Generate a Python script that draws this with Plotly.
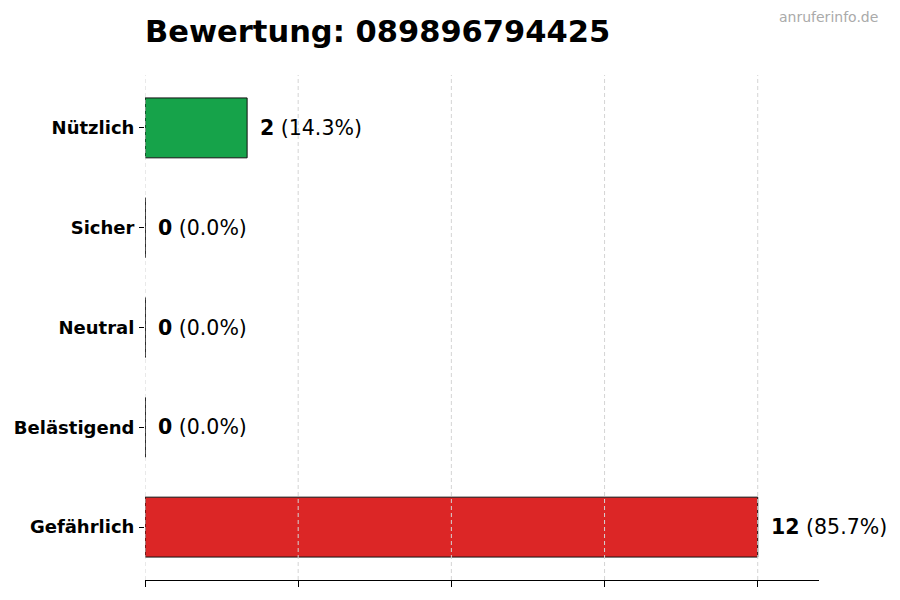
import plotly.graph_objects as go

categories = ["Gefährlich", "Belästigend", "Neutral", "Sicher", "Nützlich"]
counts = [12, 0, 0, 0, 2]
colors = ["#dc2626", "#dc2626", "#9ca3af", "#3b82f6", "#16a34a"]
x_ticks = [0, 3, 6, 9, 12]
title_text = "Bewertung: 089896794425"
watermark = "anruferinfo.de"

total = sum(counts)
font_family = "DejaVu Sans"
# page body has an 8px margin, so the figure is 16px smaller than the window
W, H = 884, 584

fig = go.Figure(go.Bar(
    x=counts, y=categories, orientation="h", width=0.6,
    marker=dict(color=colors, line=dict(color="#111111", width=1)),
    hoverinfo="skip",
))

# dashed grid drawn on top of the bars (as in the original)
for t in x_ticks:
    fig.add_shape(type="line", xref="x", yref="paper", x0=t, x1=t, y0=0, y1=1,
                  layer="above", line=dict(color="#d4d4d4", width=1, dash="4px,3px"))

# label for each bar + edge line for empty bars
for i, (cat, n) in enumerate(zip(categories, counts)):
    pct = 100.0 * n / total if total else 0.0
    fig.add_annotation(
        x=n, y=cat, xref="x", yref="y", xanchor="left", yanchor="middle",
        xshift=11, showarrow=False,
        text=f"<b>{n}</b> ({pct:.1f}%)",
        font=dict(family=font_family, size=20.5, color="#000000"),
    )
    if n == 0:
        fig.add_shape(type="line", xref="x", yref="y",
                      x0=0, x1=0, y0=i - 0.3, y1=i + 0.3,
                      line=dict(color="#111111", width=1))

fig.add_annotation(
    x=1.0, y=1.0, xref="paper", yref="paper", xanchor="right", yanchor="middle",
    yshift=58, xshift=61, showarrow=False, text=watermark,
    font=dict(family=font_family, size=14, color="#aaaaaa"),
)

fig.update_layout(
    width=W, height=H,
    paper_bgcolor="white", plot_bgcolor="white",
    title=dict(text=f"<b>{title_text}</b>", x=137 / W, xanchor="left",
               y=1 - 23 / H, yanchor="middle",
               font=dict(family=font_family, size=30.5, color="#000000")),
    margin=dict(l=137, r=73, t=67, b=12, autoexpand=False),
    showlegend=False,
    xaxis=dict(range=[0, 13.2], tickvals=x_ticks, showticklabels=False,
               ticks="outside", ticklen=6, tickcolor="#000000",
               showline=True, linecolor="#000000", linewidth=1,
               showgrid=False, zeroline=False, fixedrange=True,
               automargin=False),
    yaxis=dict(range=[-0.53, 4.53], ticks="outside", ticklen=5,
               tickcolor="#000000", showline=False, showgrid=False,
               ticklabelstandoff=1, automargin=False,
               tickfont=dict(family=font_family, size=18, color="#000000"),
               tickvals=categories,
               ticktext=[f"<b>{c}</b>" for c in categories],
               fixedrange=True),
)

fig.write_html("out.html")
